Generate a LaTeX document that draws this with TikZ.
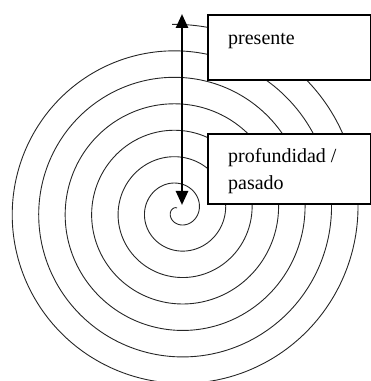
\documentclass[tikz,border=0pt]{standalone}
\usepackage{fontspec}
\setmainfont{Liberation Serif}
\usetikzlibrary{arrows.meta}
\begin{document}
\begin{tikzpicture}[x=1pt,y=1pt,
  spiralline/.style={line width=0.9pt, black!85},
  labelbox/.style={draw=black, fill=white, line width=2pt, rectangle, inner sep=0pt, anchor=north west},
  labeltext/.style={font=\fontsize{20}{27}\selectfont, inner sep=0pt, anchor=base west},
  bigarrow/.style={line width=2.6pt, {Triangle[width=12pt,length=14pt]}-{Triangle[width=12pt,length=14pt]}}
]
\useasboundingbox (0,0) rectangle (371,381);
% spiral
\draw[spiralline] plot[domain=-2040:452, samples=900, smooth]
  ({178.5 + (153+0.0736*\x)*cos(\x)}, {170.5 + (153+0.0736*\x)*sin(\x)});
% boxes
\node[labelbox, minimum width=163pt, minimum height=65pt] (presbox) at (207,367) {};
\node[labelbox, minimum width=163pt, minimum height=70pt] (pastbox) at (207,248) {};
\node[labeltext] (prestext) at (228,336) {presente};
\node[labeltext] (pasttext1) at (228,218) {profundidad /};
\node[labeltext] (pasttext2) at (228,191) {pasado};
% arrow
\coordinate (top) at (182,367);
\coordinate (bottom) at (182,176);
\draw[bigarrow] (top) -- (bottom);
\end{tikzpicture}
\end{document}
